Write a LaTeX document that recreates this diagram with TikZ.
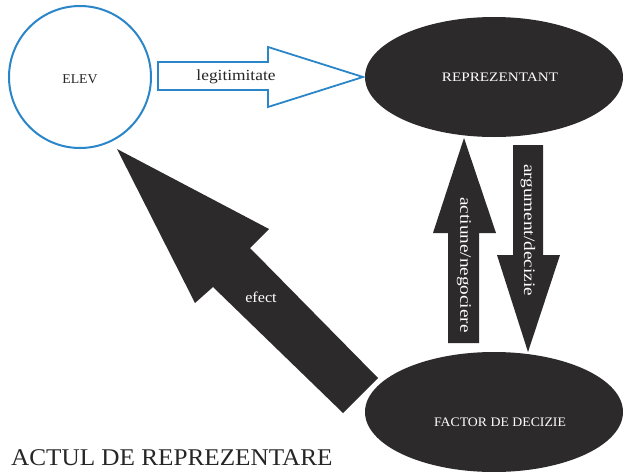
\documentclass[tikz,border=0pt]{standalone}
\usepackage{fontspec}
\setmainfont{Liberation Serif}
\usepackage{graphicx}
\definecolor{dark}{HTML}{2D2A2B}
\definecolor{blu}{HTML}{2A86C8}
\newcommand\lbl[3]{\scalebox{#1}[1]{\fontsize{#2}{#2}\selectfont #3}}
\begin{document}
\begin{tikzpicture}[x=1pt,y=-1pt,
  wtxt/.style={text=white,inner sep=0pt},
  btxt/.style={text=black!85,inner sep=0pt}]
\useasboundingbox (0,0) rectangle (623,471);
\fill[white] (0,0) rectangle (623,471);
% nodes
\draw[blu,line width=2pt,fill=white] (80,77) circle[radius=71];
\node[btxt] (elev) at (80,79) {\lbl{1.02}{13.5pt}{ELEV}};
\fill[dark] (494,77) ellipse[x radius=129,y radius=60];
\node[wtxt] (rep) at (500,77) {\lbl{1.17}{13pt}{REPREZENTANT}};
\fill[dark] (494,412) ellipse[x radius=129,y radius=60];
\node[wtxt] (fac) at (500,422) {\lbl{1.06}{13pt}{FACTOR DE DECIZIE}};
% legitimitate arrow
\draw[blu,line width=1.8pt,fill=white,line join=miter]
  (158,62) -- (268,62) -- (268,47) -- (363,77) -- (268,107) -- (268,90) -- (158,90) -- cycle;
\node[btxt] (leg) at (236,77) {\lbl{1.12}{15.5pt}{legitimitate}};
% up arrow
\fill[dark] (448,343) -- (448,233) -- (433,233) -- (464,138) -- (496,233) -- (479,233) -- (479,343) -- cycle;
\node[wtxt,rotate=-90] (act) at (464,265) {\lbl{1.2}{16pt}{actiune/negociere}};
% down arrow
\fill[dark] (513,145) -- (543,145) -- (543,255) -- (560,255) -- (528,352) -- (497,255) -- (513,255) -- cycle;
\node[wtxt,rotate=-90] (arg) at (528,230) {\lbl{1.2}{16pt}{argument/decizie}};
% efect arrow
\fill[dark] (117,149) -- (269,229) -- (250,248) -- (378,378) -- (343,413) -- (213,287) -- (195,303) -- cycle;
\node[wtxt] (ef) at (261,297) {\lbl{1.08}{15pt}{efect}};
% title
\node[btxt,anchor=base west] (title) at (11,465) {\lbl{1.05}{24pt}{ACTUL DE REPREZENTARE}};
\end{tikzpicture}
\end{document}
